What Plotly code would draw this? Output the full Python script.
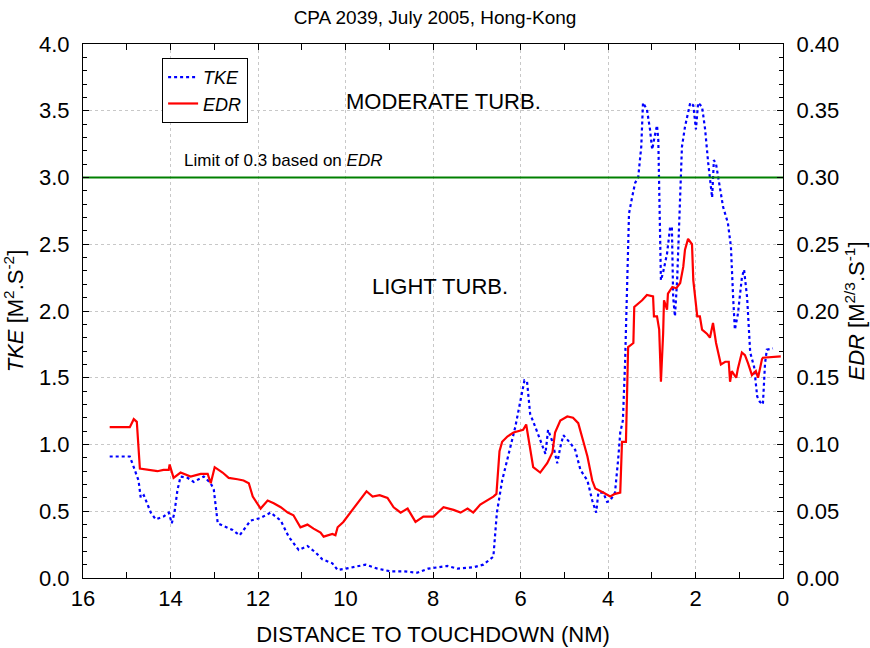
import plotly.graph_objects as go

# Distance to touchdown (NM) and turbulent kinetic energy (m^2/s^2)
tke_dist = [15.39, 14.93, 14.84, 14.73, 14.68, 14.61, 14.45, 14.34, 14.16, 14.04,
            13.97, 13.91, 13.84, 13.77, 13.61, 13.47, 13.24, 13.08, 13.01, 12.92,
            12.79, 12.58, 12.42, 12.17, 11.94, 11.71, 11.48, 11.30, 11.07, 10.87,
            10.68, 10.53, 10.30, 10.18, 10.00, 9.73, 9.54, 9.27, 8.97, 8.68,
            8.36, 8.11, 7.67, 7.44, 7.08, 6.85, 6.62, 6.54, 6.42, 6.27,
            6.12, 6.00, 5.91, 5.85, 5.78, 5.66, 5.55, 5.43, 5.37, 5.28,
            5.16, 5.09, 5.02, 4.86, 4.75, 4.63, 4.47, 4.36, 4.27, 4.22,
            4.11, 4.02, 3.95, 3.84, 3.77, 3.72, 3.66, 3.61, 3.56, 3.52,
            3.45, 3.38, 3.31, 3.24, 3.20, 3.11, 3.04, 2.99, 2.92, 2.88,
            2.85, 2.81, 2.79, 2.74, 2.65, 2.58, 2.54, 2.51, 2.47, 2.42,
            2.37, 2.31, 2.24, 2.19, 2.12, 2.05, 1.99, 1.94, 1.85, 1.78,
            1.71, 1.62, 1.58, 1.53, 1.48, 1.37, 1.26, 1.19, 1.14, 1.10,
            1.03, 0.94, 0.89, 0.82, 0.75, 0.66, 0.59, 0.53, 0.46, 0.41,
            0.37, 0.23]
tke_vals = [0.91, 0.91, 0.83, 0.73, 0.60, 0.62, 0.49, 0.44, 0.46, 0.49,
            0.41, 0.49, 0.66, 0.76, 0.75, 0.72, 0.76, 0.71, 0.66, 0.41,
            0.39, 0.36, 0.32, 0.43, 0.45, 0.49, 0.43, 0.31, 0.21, 0.24,
            0.19, 0.14, 0.11, 0.06, 0.07, 0.09, 0.10, 0.07, 0.05, 0.05,
            0.04, 0.07, 0.09, 0.07, 0.08, 0.10, 0.16, 0.49, 0.73, 0.93,
            1.13, 1.33, 1.48, 1.47, 1.23, 1.13, 1.03, 0.93, 1.11, 1.03,
            0.86, 0.98, 1.07, 1.01, 0.96, 0.81, 0.73, 0.58, 0.49, 0.64,
            0.64, 0.57, 0.58, 0.64, 0.88, 1.09, 1.18, 1.61, 2.23, 2.73,
            2.85, 2.96, 3.00, 3.23, 3.56, 3.51, 3.36, 3.21, 3.33, 3.39,
            3.28, 2.73, 2.23, 2.29, 2.43, 2.63, 2.63, 2.10, 1.96, 2.23,
            2.73, 3.23, 3.38, 3.45, 3.56, 3.54, 3.36, 3.56, 3.53, 3.36,
            3.11, 2.85, 3.13, 3.10, 3.00, 2.78, 2.66, 2.48, 2.10, 1.86,
            1.98, 2.25, 2.31, 2.10, 1.69, 1.58, 1.36, 1.32, 1.30, 1.61,
            1.71, 1.72]

# Distance to touchdown (NM) and eddy dissipation rate (m^2/3 s^-1)
edr_dist = [15.39, 14.93, 14.84, 14.77, 14.70, 14.50, 14.30, 14.16, 14.04, 14.02,
            13.93, 13.77, 13.54, 13.31, 13.15, 13.08, 12.99, 12.81, 12.67, 12.47,
            12.33, 12.21, 12.12, 11.94, 11.78, 11.64, 11.48, 11.32, 11.19, 11.03,
            10.87, 10.73, 10.57, 10.50, 10.30, 10.23, 10.18, 10.05, 9.89, 9.70,
            9.52, 9.38, 9.22, 9.04, 8.90, 8.74, 8.58, 8.40, 8.22, 7.99,
            7.76, 7.53, 7.37, 7.21, 7.08, 6.92, 6.76, 6.62, 6.55, 6.48,
            6.42, 6.30, 6.16, 5.94, 5.87, 5.78, 5.71, 5.55, 5.39, 5.27,
            5.21, 5.09, 4.93, 4.80, 4.68, 4.57, 4.47, 4.36, 4.29, 4.11,
            3.95, 3.84, 3.72, 3.68, 3.59, 3.54, 3.42, 3.40, 3.22, 3.11,
            2.97, 2.95, 2.88, 2.83, 2.79, 2.74, 2.72, 2.65, 2.63, 2.53,
            2.44, 2.35, 2.28, 2.24, 2.17, 2.08, 2.05, 1.96, 1.90, 1.85,
            1.74, 1.67, 1.60, 1.53, 1.48, 1.42, 1.32, 1.24, 1.21, 1.17,
            1.07, 1.03, 0.94, 0.87, 0.80, 0.71, 0.62, 0.57, 0.48, 0.46,
            0.05]
edr_vals = [0.113, 0.113, 0.119, 0.117, 0.082, 0.081, 0.080, 0.081, 0.081, 0.085,
            0.075, 0.079, 0.076, 0.078, 0.078, 0.071, 0.083, 0.079, 0.075, 0.074,
            0.073, 0.071, 0.061, 0.052, 0.058, 0.056, 0.053, 0.049, 0.047, 0.038,
            0.040, 0.037, 0.034, 0.031, 0.033, 0.032, 0.038, 0.042, 0.049, 0.058,
            0.065, 0.061, 0.062, 0.060, 0.053, 0.049, 0.052, 0.042, 0.046, 0.046,
            0.053, 0.051, 0.049, 0.052, 0.049, 0.055, 0.058, 0.061, 0.063, 0.095,
            0.102, 0.106, 0.109, 0.111, 0.115, 0.096, 0.083, 0.079, 0.086, 0.094,
            0.109, 0.118, 0.121, 0.120, 0.116, 0.103, 0.091, 0.073, 0.067, 0.064,
            0.061, 0.063, 0.064, 0.102, 0.102, 0.173, 0.176, 0.203, 0.208, 0.212,
            0.211, 0.196, 0.196, 0.186, 0.147, 0.183, 0.208, 0.201, 0.213, 0.218,
            0.217, 0.221, 0.233, 0.246, 0.254, 0.250, 0.223, 0.196, 0.196, 0.186,
            0.183, 0.180, 0.191, 0.176, 0.169, 0.160, 0.162, 0.162, 0.147, 0.155,
            0.150, 0.157, 0.169, 0.167, 0.161, 0.152, 0.155, 0.150, 0.164, 0.165,
            0.166]

EDR_LIMIT = 0.3
X_TICKS = [16, 14, 12, 10, 8, 6, 4, 2, 0]

FONT = "Liberation Sans, Arial, sans-serif"

fig = go.Figure()

fig.add_trace(go.Scatter(
    x=tke_dist, y=tke_vals, name="<i>TKE</i>", mode="lines",
    line=dict(color="#0000ff", width=2.2, dash="dot"), yaxis="y"))

fig.add_trace(go.Scatter(
    x=edr_dist, y=edr_vals, name="<i>EDR</i>", mode="lines",
    line=dict(color="#ff0000", width=2.2), yaxis="y2"))

# Moderate / light turbulence boundary
fig.add_trace(go.Scatter(
    x=[16, 0], y=[EDR_LIMIT, EDR_LIMIT], mode="lines", showlegend=False,
    line=dict(color="#008000", width=2), yaxis="y2", hoverinfo="skip"))

axis_common = dict(
    showline=True, linecolor="black", linewidth=1,
    ticks="inside", ticklen=6, tickcolor="black",
    tickfont=dict(size=22, color="black", family=FONT),
    zeroline=False,
)

fig.update_layout(
    width=870, height=648,
    margin=dict(l=83, r=87, t=44, b=70, autoexpand=False),
    paper_bgcolor="white", plot_bgcolor="white",
    font=dict(family=FONT, color="black"),
    title=dict(text="CPA 2039, July 2005, Hong-Kong", x=0.5, xanchor="center",
               y=1 - 17 / 648, yanchor="middle",
               font=dict(size=19, family=FONT, color="black")),
    xaxis=dict(
        **axis_common, range=[16, 0], tickvals=X_TICKS,
        ticktext=[str(v) for v in X_TICKS], mirror="allticks",
        showgrid=True, gridcolor="#c8c8c8", griddash="dot", gridwidth=1,
        minor=dict(dtick=1, ticks="inside", ticklen=4, tickcolor="black", showgrid=False),
        title=dict(text="DISTANCE TO TOUCHDOWN (NM)", standoff=16,
                   font=dict(size=22, family=FONT, color="black")),
        ticklabelstandoff=1,
    ),
    yaxis=dict(
        **axis_common, range=[0, 4], dtick=0.5, tickformat=".1f", mirror=True,
        showgrid=True, gridcolor="#c8c8c8", griddash="dot", gridwidth=1,
        minor=dict(dtick=0.1, ticks="inside", ticklen=4, tickcolor="black", showgrid=False),
        title=dict(text="<i>TKE</i> [M<sup>2</sup>.S<sup>-2</sup>]", standoff=10,
                   font=dict(size=22, family=FONT, color="black")),
        ticklabelstandoff=8,
    ),
    yaxis2=dict(
        **axis_common, range=[0, 0.4], dtick=0.05, tickformat=".2f",
        overlaying="y", side="right", showgrid=False,
        minor=dict(dtick=0.01, ticks="inside", ticklen=4, tickcolor="black", showgrid=False),
        title=dict(text="<i>EDR</i> [M<sup>2/3</sup>.S<sup>-1</sup>]", standoff=10,
                   font=dict(size=22, family=FONT, color="black")),
        ticklabelstandoff=8,
    ),
    legend=dict(
        x=0.113, y=0.974, xanchor="left", yanchor="top",
        bgcolor="white", bordercolor="black", borderwidth=1,
        font=dict(size=18, family=FONT, color="black"),
        itemwidth=30, tracegroupgap=0,
    ),
    showlegend=True,
)

fig.add_annotation(x=7.76, y=3.57, xref="x", yref="y", text="MODERATE TURB.",
                   showarrow=False, font=dict(size=22, family=FONT, color="black"))
fig.add_annotation(x=7.83, y=2.18, xref="x", yref="y", text="LIGHT TURB.",
                   showarrow=False, font=dict(size=22, family=FONT, color="black"))
fig.add_annotation(x=13.74, y=3.13, xref="x", yref="y", xanchor="left",
                   text="Limit of 0.3 based on <i>EDR</i>",
                   showarrow=False, font=dict(size=17, family=FONT, color="black"))

fig.write_html("out.html")
